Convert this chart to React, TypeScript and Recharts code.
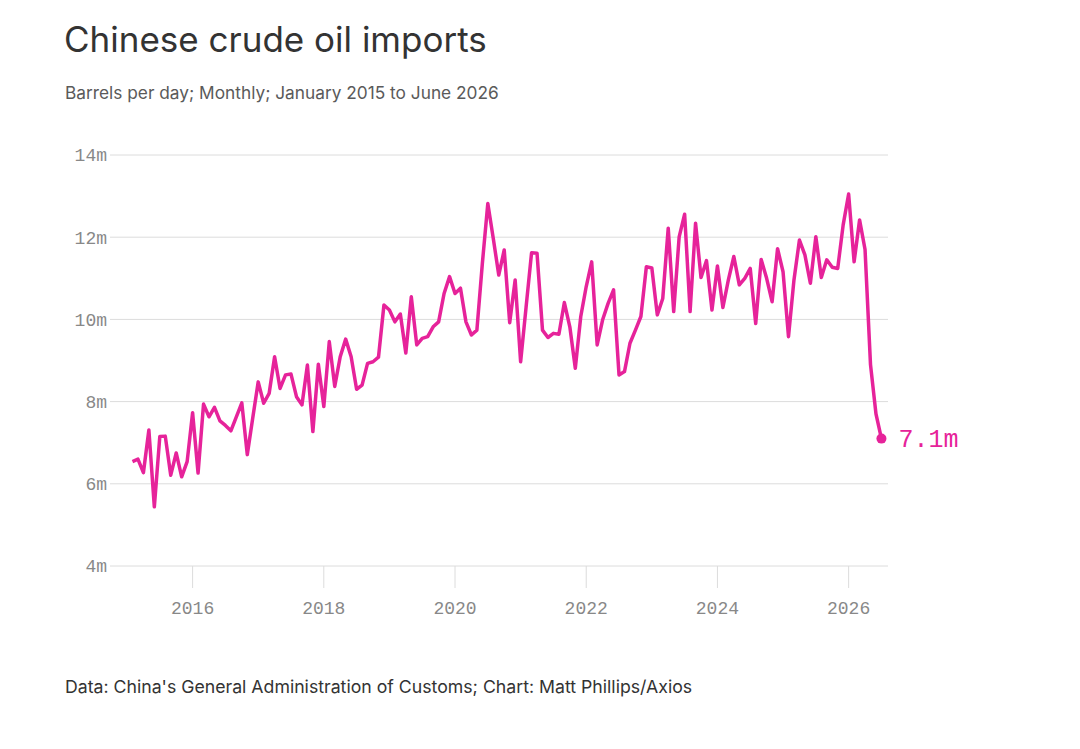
import React from 'react';
import { LineChart, Line, XAxis, YAxis, CartesianGrid } from 'recharts';

// Monthly imports, million barrels per day, Jan 2015 .. Jun 2026
const startYear = 2015;
const importsMbpd = [
  6.54, 6.6, 6.27, 7.31, 5.44, 7.15, 7.16, 6.21, 6.75, 6.17, 6.54, 7.73,
  6.26, 7.94, 7.63, 7.86, 7.53, 7.42, 7.29, 7.63, 7.97, 6.71, 7.6, 8.48,
  7.96, 8.2, 9.09, 8.32, 8.65, 8.67, 8.12, 7.92, 8.89, 7.27, 8.91, 7.88,
  9.46, 8.37, 9.09, 9.52, 9.09, 8.3, 8.4, 8.93, 8.97, 9.08, 10.35, 10.23,
  9.94, 10.13, 9.18, 10.55, 9.38, 9.54, 9.58, 9.82, 9.94, 10.63, 11.04, 10.63,
  10.76, 9.94, 9.62, 9.74, 11.36, 12.82, 11.97, 11.08, 11.69, 9.92, 10.96, 8.97,
  10.3, 11.62, 11.61, 9.74, 9.56, 9.66, 9.64, 10.41, 9.82, 8.81, 10.07, 10.8,
  11.4, 9.38, 9.99, 10.39, 10.72, 8.65, 8.73, 9.42, 9.74, 10.07, 11.28, 11.25,
  10.11, 10.51, 12.22, 10.19, 12.01, 12.56, 10.19, 12.34, 11.02, 11.43, 10.23, 11.3,
  10.29, 10.96, 11.53, 10.84, 11.0, 11.24, 9.9, 11.46, 11.0, 10.43, 11.72, 11.16,
  9.58, 10.96, 11.93, 11.57, 10.88, 12.01, 11.02, 11.45, 11.27, 11.24, 12.3, 13.05,
  11.4, 12.42, 11.7, 8.9, 7.7, 7.1,
];
const xTicks = [2016, 2018, 2020, 2022, 2024, 2026];
const yTicks = [4, 6, 8, 10, 12, 14];
const lastLabel = '7.1m';

const data = importsMbpd.map((v, i) => ({ t: startYear + (i + 1) / 12, v }));

const PINK = '#e6239a';
const MONO = '"Liberation Mono", "DejaVu Sans Mono", monospace';
const SANS = 'Inter, "Noto Sans", sans-serif';

const EndDot = (props: any) => {
  const { cx, cy, index } = props;
  if (index !== data.length - 1) return <g key={`d${index}`} />;
  return (
    <g key={`d${index}`}>
      <circle cx={cx} cy={cy} r={5} fill={PINK} />
      <text x={cx + 17} y={cy} dy="0.35em" fill={PINK} fontFamily={MONO} fontSize={25}>
        {lastLabel}
      </text>
    </g>
  );
};

export default function App() {
  return (
    <div style={{ position: 'absolute', left: 0, top: 0, width: 1080, height: 749, background: '#fff' }}>
      <div style={{ position: 'absolute', left: 64, top: 18, fontFamily: SANS, fontSize: 35, lineHeight: '42px', color: '#333' }}>
        Chinese crude oil imports
      </div>
      <div style={{ position: 'absolute', left: 65, top: 82, fontFamily: SANS, fontSize: 17.3, lineHeight: '22px', color: '#5a5a5a' }}>
        Barrels per day; Monthly; January 2015 to June 2026
      </div>
      <div style={{ position: 'absolute', left: 65, top: 676, fontFamily: SANS, fontSize: 17.7, lineHeight: '22px', color: '#333' }}>
        Data: China's General Administration of Customs; Chart: Matt Phillips/Axios
      </div>
      <div style={{ position: 'absolute', left: 0, top: 0 }}>
        <LineChart width={1080} height={749} data={data} margin={{ top: 155, right: 192, bottom: 143, left: 67 }}>
          <CartesianGrid vertical={false} stroke="#dcdcdc" />
          <XAxis
            dataKey="t"
            type="number"
            domain={[2015, 2026.6]}
            ticks={xTicks}
            height={40}
            axisLine={false}
            tickLine={{ stroke: '#dcdcdc' }}
            tickSize={22}
            tickMargin={13}
            tick={{ fill: '#888', fontFamily: MONO, fontSize: 18 }}
          />
          <YAxis
            type="number"
            domain={[4, 14]}
            ticks={yTicks}
            width={60}
            axisLine={false}
            tickLine={{ stroke: '#dcdcdc' }}
            tickSize={17}
            tickMargin={3}
            tickFormatter={(v) => `${v}m`}
            tick={{ fill: '#888', fontFamily: MONO, fontSize: 18 }}
          />
          <Line
            type="linear"
            dataKey="v"
            stroke={PINK}
            strokeWidth={3.5}
            strokeLinejoin="round"
            dot={EndDot}
            activeDot={false}
            isAnimationActive={false}
          />
        </LineChart>
      </div>
    </div>
  );
}
